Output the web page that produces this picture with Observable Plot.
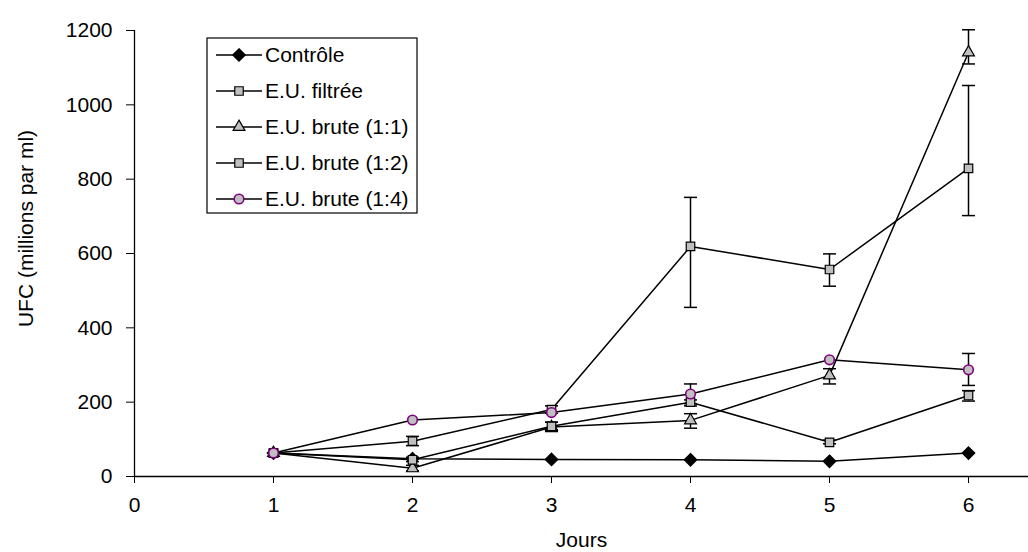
<!DOCTYPE html>
<html><head><meta charset="utf-8">
<script src="https://cdn.jsdelivr.net/npm/d3@7"></script>
<script src="https://cdn.jsdelivr.net/npm/@observablehq/plot@0.6"></script>
<style>body{margin:0;background:#fff} #chart{width:1028px;height:552px}</style>
</head><body><div id="chart"></div>
<script>
// ---- data ----
const days = [1, 2, 3, 4, 5, 6];
const seriesNames = ["Contrôle", "E.U. filtrée", "E.U. brute (1:1)", "E.U. brute (1:2)", "E.U. brute (1:4)"];
const controle   = [63, 48, 46, 45, 41, 63];
const filtree    = [63, 95, 180, 619, 557, 829];
const filtreeLo  = [null, 83, 170, 455, 512, 702];
const filtreeHi  = [null, 108, 190, 751, 599, 1052];
const brute11    = [63, 22, 133, 151, 272, 1141];
const brute11Lo  = [null, 15, 121, 130, 249, 1110];
const brute11Hi  = [null, 30, 146, 169, 290, 1202];
const brute12    = [63, 45, 135, 200, 92, 218];
const brute12Lo  = [null, 40, 126, 190, 88, 203];
const brute12Hi  = [null, 52, 146, 206, 98, 231];
const brute14    = [63, 152, 172, 222, 314, 287];
const brute14Lo  = [null, null, null, 196, null, 245];
const brute14Hi  = [null, null, null, 249, null, 331];
const xTicks = [0, 1, 2, 3, 4, 5, 6];
const yTicks = [0, 200, 400, 600, 800, 1000, 1200];
const xTitle = "Jours";
const yTitle = "UFC (millions par ml)";

const values = [controle, filtree, brute11, brute12, brute14];
const lows = [[], filtreeLo, brute11Lo, brute12Lo, brute14Lo];
const highs = [[], filtreeHi, brute11Hi, brute12Hi, brute14Hi];
const symbols = ["diamond2", "square", "triangle", "square", "circle"];
const fills = ["#000000", "#c0c0c0", "#c0c0c0", "#c0c0c0", "#c0c0c0"];
const strokes = ["#000000", "#000000", "#000000", "#000000", "#800080"];
const radii = [5, 4.8, 4.4, 4.8, 4.8];

const rows = [];
seriesNames.forEach((s, i) => days.forEach((d, j) => rows.push({
  series: s, idx: i, day: d, value: values[i][j],
  lo: lows[i][j] ?? null, hi: highs[i][j] ?? null
})));
const errRows = rows.filter(r => r.lo != null && r.hi != null);

const cap = {draw(ctx, size) { const w = Math.sqrt(size / Math.PI); ctx.moveTo(-w, 0); ctx.lineTo(w, 0); }};
const diamond = {draw(ctx, size) { const r = Math.sqrt(size / 2); ctx.moveTo(0, -r); ctx.lineTo(r, 0); ctx.lineTo(0, r); ctx.lineTo(-r, 0); ctx.closePath(); }};

const font = "'Liberation Sans', Arial, sans-serif";
const fs = 21;

const marks = [
  Plot.ruleY([0], {stroke: "#000", strokeWidth: 1.3}),
  Plot.ruleX([0], {stroke: "#000", strokeWidth: 1.3}),
  Plot.axisX({ticks: xTicks, tickFormat: d => String(d), tickSize: 7, tickPadding: 14, fontSize: fs, label: null, stroke: "#000", color: "#000"}),
  Plot.axisY({ticks: yTicks, tickFormat: d => String(d), tickSize: 8, tickPadding: 14, fontSize: fs, label: null, stroke: "#000", color: "#000"}),
  Plot.text([xTitle], {frameAnchor: "bottom", lineAnchor: "middle", textAnchor: "middle", dy: 64, fontSize: fs, fill: "#000"}),
  Plot.text([yTitle], {frameAnchor: "left", textAnchor: "middle", lineAnchor: "middle", rotate: -90, dx: -108, dy: -25, fontSize: fs, fill: "#000"}),
  // error bars
  Plot.ruleX(errRows, {x: "day", y1: "lo", y2: "hi", stroke: "#000", strokeWidth: 1.5}),
  Plot.dot(errRows, {x: "day", y: "lo", symbol: cap, r: 6.5, stroke: "#000", strokeWidth: 1.5, fill: "none"}),
  Plot.dot(errRows, {x: "day", y: "hi", symbol: cap, r: 6.5, stroke: "#000", strokeWidth: 1.5, fill: "none"}),
  Plot.line(rows, {x: "day", y: "value", z: "series", stroke: "#000", strokeWidth: 1.5})
];
const symObj = {diamond2: diamond, square: "square", triangle: "triangle", circle: "circle"};
seriesNames.forEach((s, i) => {
  marks.push(Plot.dot(rows.filter(r => r.idx === i), {
    x: "day", y: "value", symbol: symObj[symbols[i]], r: radii[i],
    fill: fills[i], stroke: strokes[i], strokeWidth: i === 4 ? 1.6 : 1.2
  }));
});

const plot = Plot.plot({
  width: 1028, height: 552,
  marginLeft: 134, marginRight: 0, marginTop: 30, marginBottom: 76,
  style: {fontFamily: font, background: "#fff", color: "#000"},
  x: {domain: [0, 6], range: [134, 968]},
  y: {domain: [0, 1200]},
  marks
});
document.getElementById("chart").appendChild(plot);

// legend (drawn with d3 into the plot svg)
const svg = d3.select(plot);
const lg = svg.append("g");
const bx = 207, by = 38, bw = 210, bh = 175, rowH = 36;
lg.append("rect").attr("x", bx).attr("y", by).attr("width", bw).attr("height", bh)
  .attr("fill", "#fff").attr("stroke", "#000").attr("stroke-width", 1.2);
const symGen = {diamond2: diamond, square: d3.symbolSquare, triangle: d3.symbolTriangle, circle: d3.symbolCircle};
seriesNames.forEach((s, i) => {
  const cy = by + 17 + i * rowH;
  lg.append("line").attr("x1", bx + 9).attr("x2", bx + 55).attr("y1", cy).attr("y2", cy)
    .attr("stroke", "#000").attr("stroke-width", 1.5);
  lg.append("path").attr("transform", `translate(${bx + 32},${cy})`)
    .attr("d", d3.symbol(symGen[symbols[i]], radii[i] * radii[i] * Math.PI)())
    .attr("fill", fills[i]).attr("stroke", strokes[i]).attr("stroke-width", i === 4 ? 1.6 : 1.2);
  lg.append("text").attr("x", bx + 58).attr("y", cy).attr("dy", "0.35em")
    .attr("text-anchor", "start").attr("font-family", font).attr("font-size", fs)
    .attr("fill", "#000").text(s);
});
</script></body></html>
